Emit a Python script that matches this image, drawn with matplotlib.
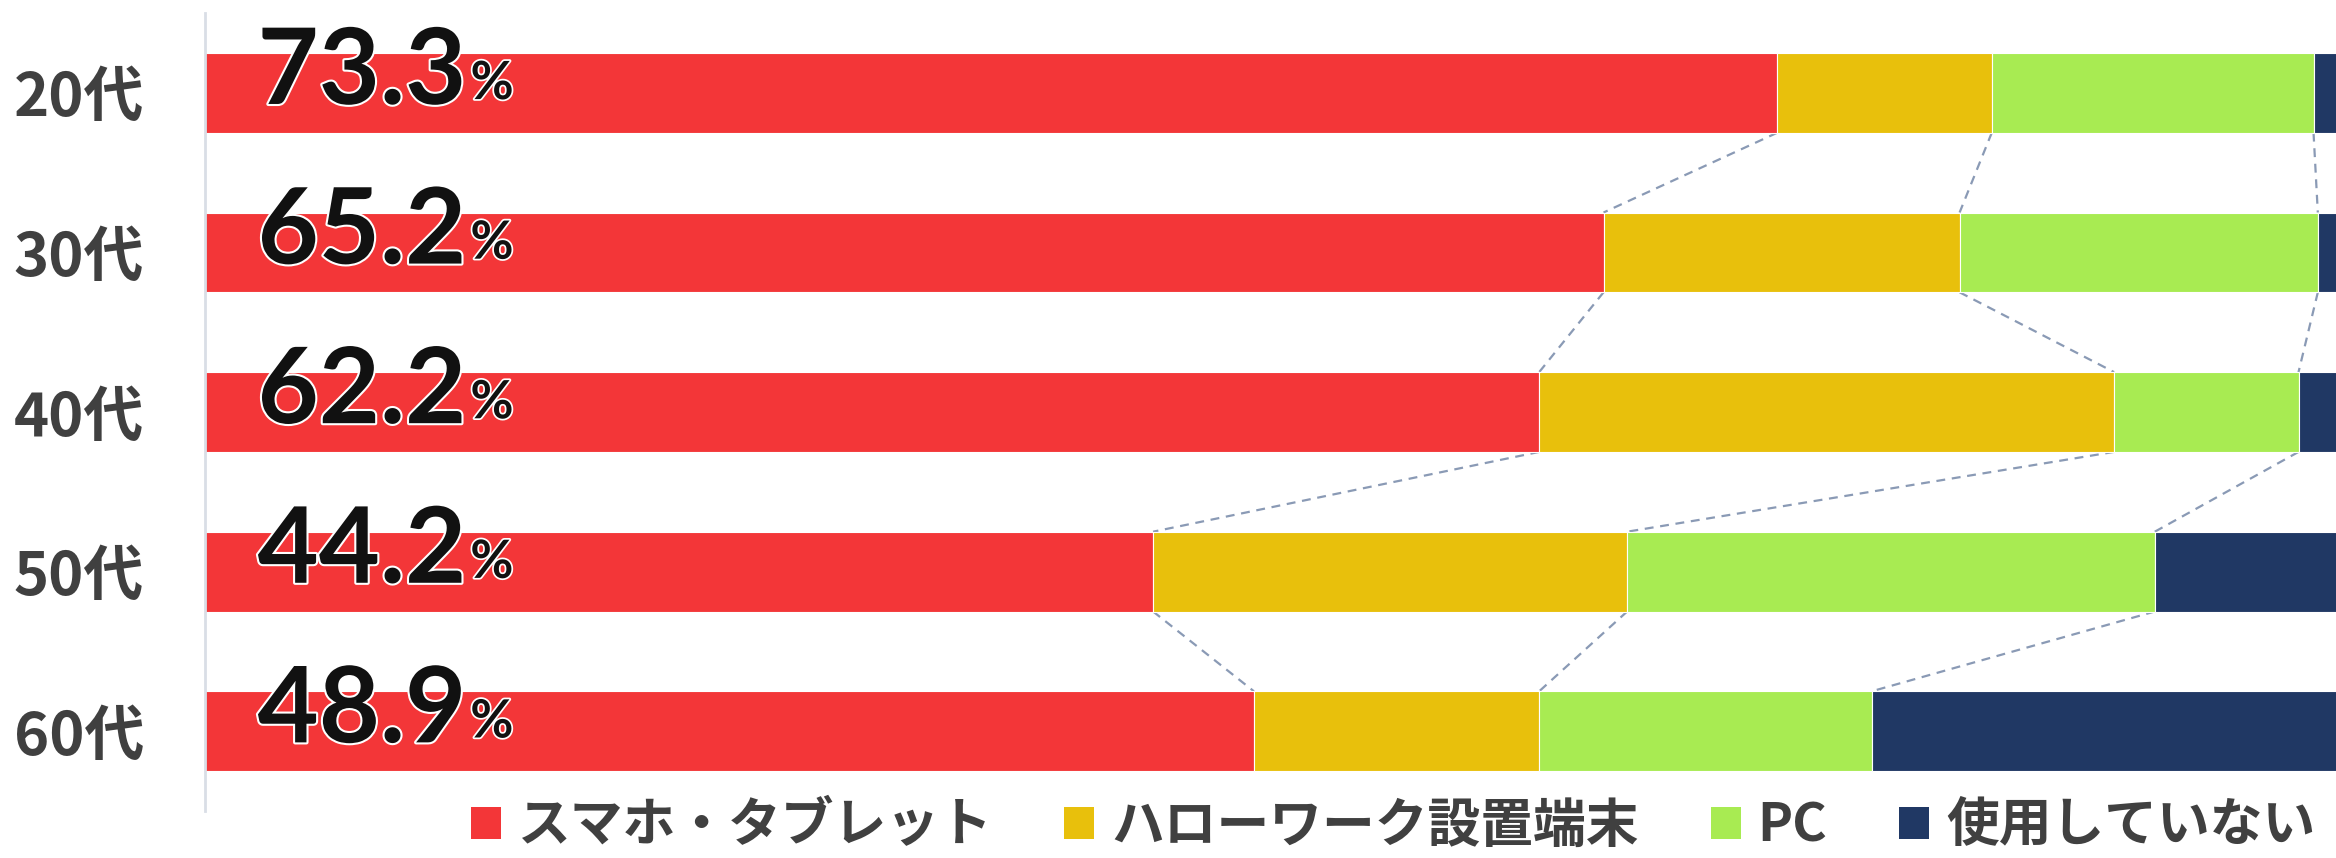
import numpy as np
import matplotlib
matplotlib.use('Agg')
import matplotlib.pyplot as plt
import matplotlib.patheffects as pe
from matplotlib.patches import Patch

plt.rcParams['font.family'] = ['Noto Sans CJK JP', 'DejaVu Sans']

# data (percent)
ages = ['20代', '30代', '40代', '50代', '60代']
series = ['スマホ・タブレット', 'ハローワーク設置端末', 'PC', '使用していない']
smartphone = [73.3, 65.2, 62.2, 44.2, 48.9]
hellowork = [10.0, 16.6, 26.8, 22.1, 13.3]
pc = [15.0, 16.7, 8.6, 24.6, 15.5]
none_used = [1.7, 1.5, 2.4, 9.1, 22.3]
colors = ['#F33638', '#E8C00C', '#A8EB52', '#203864']

vals = np.array([smartphone, hellowork, pc, none_used])
cum = np.cumsum(vals, axis=0)
left = cum - vals
y = np.arange(len(ages))

fig = plt.figure(figsize=(23.36, 8.58), dpi=100)
ax = fig.add_axes([205/2336, 47/858, 2145/2336, 798/858])

for k in range(len(series)):
    ax.barh(y, vals[k], left=left[k], height=0.5, color=colors[k],
            edgecolor='white', linewidth=0.8, label=series[k], zorder=2)

# dashed connectors between bars
for i in range(len(ages) - 1):
    for k in range(3):
        ax.plot([cum[k, i], cum[k, i+1]], [i + 0.25, i + 1 - 0.25],
                color='#8A9AB5', linestyle=(0, (4, 3)), linewidth=1.6, zorder=1)

# value labels for first series
for i, v in enumerate(smartphone):
    t = ax.text(2.45, i + 0.07, f'{v:.1f}', fontsize=76, fontweight='bold',
                family='Lato', color='#111111', va='baseline', ha='left', zorder=5,
                path_effects=[pe.withStroke(linewidth=3, foreground='white')])
    ax.annotate('%', xy=(1, 0), xycoords=t, xytext=(3, 10), textcoords='offset points',
                fontsize=38, fontweight='bold', family='Lato', color='#111111',
                va='bottom', ha='left', zorder=5,
                path_effects=[pe.withStroke(linewidth=2.5, foreground='white')])

ax.set_xlim(0, 100)
ax.set_ylim(4.5, -0.5)
ax.set_yticks(y)
ax.set_yticklabels(ages, fontsize=43, fontweight='bold', color='#404040')
ax.tick_params(axis='y', length=0, pad=44)
ax.set_xticks([])
for s in ['top', 'right', 'bottom']:
    ax.spines[s].set_visible(False)
ax.spines['left'].set_color('#D9DEE6')
ax.spines['left'].set_linewidth(2)
ax.spines['left'].set_zorder(3)

handles = [Patch(facecolor=c, edgecolor='none') for c in colors]
leg = fig.legend(handles, series, loc='center', bbox_to_anchor=(1393/2336, 32/858),
                 ncol=4, frameon=False, handlelength=0.57,
                 handleheight=0.57, handletextpad=0.32, columnspacing=1.36,
                 borderpad=0.1, prop={'weight': 'bold', 'size': 38})
for txt in leg.get_texts():
    txt.set_color('#404040')

fig.savefig('out.png', dpi=100)
